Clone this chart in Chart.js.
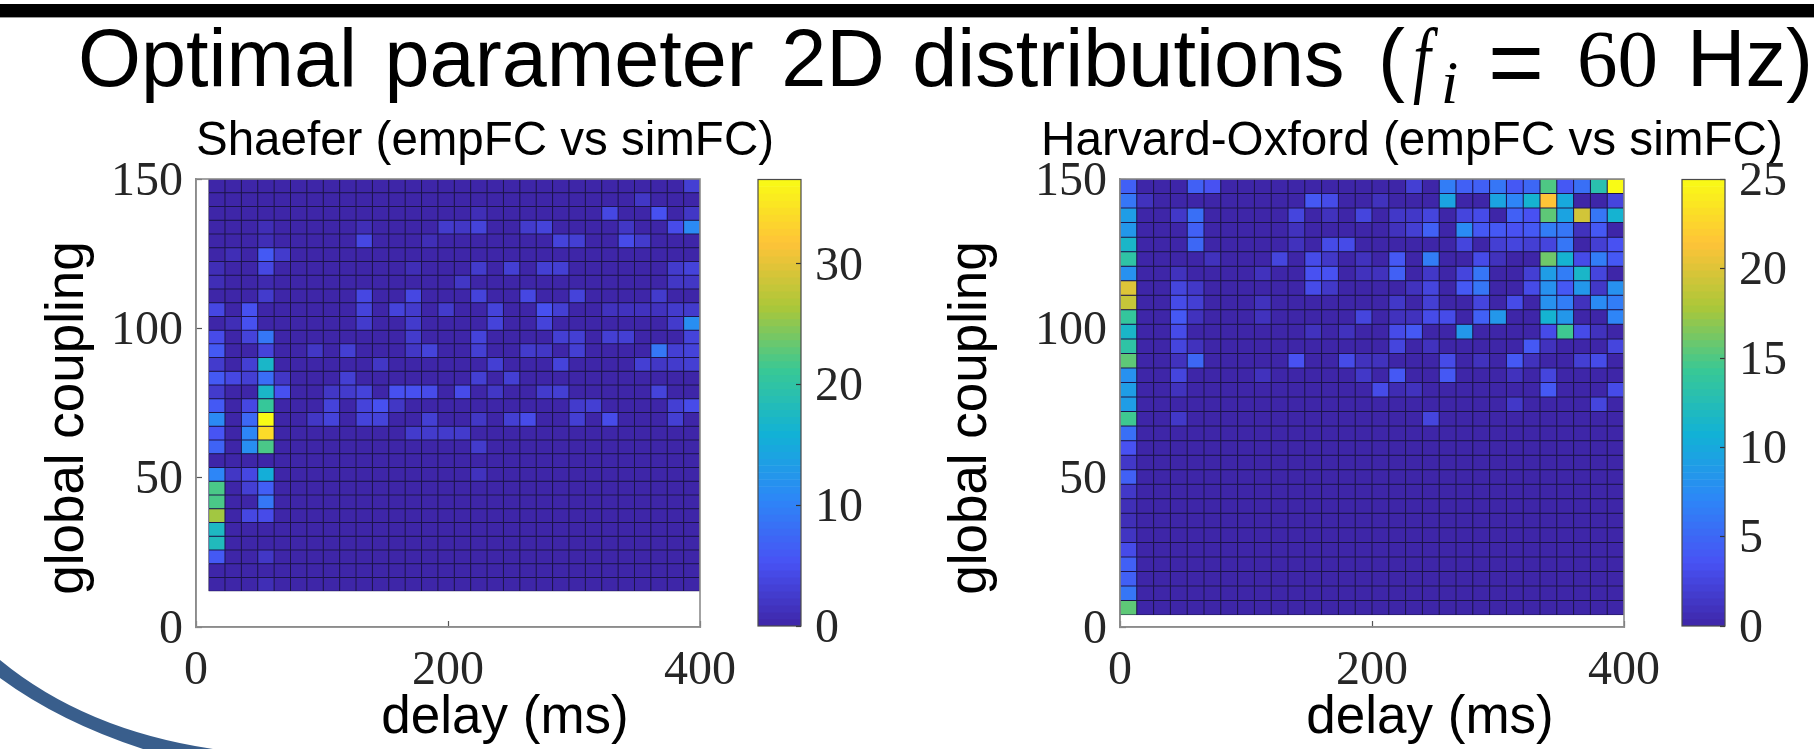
<!DOCTYPE html>
<html>
<head>
<meta charset="utf-8">
<title>Optimal parameter 2D distributions</title>
<script src="https://cdn.jsdelivr.net/npm/chart.js@4/dist/chart.umd.js"></script>
<style>
  html,body{margin:0;padding:0;background:#fff;width:1814px;height:749px;overflow:hidden}
  #stage{position:relative;width:1814px;height:749px;overflow:hidden;background:#fff}
  canvas{position:absolute;top:0}
  #bar{position:absolute;left:0;top:4px;width:1814px;height:13px;background:#000;border-bottom:1px solid #999}
  .t{position:absolute;white-space:pre;color:#000;line-height:1}
  .sans{font-family:"Liberation Sans",Arial,sans-serif}
  .serif{font-family:"Liberation Serif","Times New Roman",serif}
  svg{position:absolute;left:0;top:0}
</style>
</head>
<body>
<div id="stage">
  <div id="bar"></div>
  <svg width="1814" height="749"><path d="M0,660 Q85,730 213,749 L143,749 Q60,722 0,678 Z" fill="#395e8c"/></svg>
  <span class="t sans" style="left:78px;top:18px;font-size:81px;word-spacing:5px">Optimal parameter 2D distributions</span>
  <span class="t sans" style="left:1378px;top:18px;font-size:81px">(</span>
  <span class="t serif" style="left:1413px;top:16px;font-size:85px;font-style:italic;transform:scaleX(.75);transform-origin:left top">f</span>
  <span class="t serif" style="left:1441px;top:51px;font-size:62px;font-style:italic">i</span>
  <span class="t sans" style="left:1488px;top:14px;font-size:96px">=</span>
  <span class="t serif" style="left:1577px;top:19px;font-size:81px">60</span>
  <span class="t sans" style="left:1687px;top:18px;font-size:81px">Hz)</span>
  <canvas id="leftHeat" width="970" height="749" style="left:0"></canvas>
  <canvas id="leftBar" width="160" height="749" style="left:740px"></canvas>
  <canvas id="rightHeat" width="1024" height="749" style="left:900px"></canvas>
  <canvas id="rightBar" width="150" height="749" style="left:1664px"></canvas>
</div>
<script>
const panelTitles = ["Shaefer (empFC vs simFC)", "Harvard-Oxford (empFC vs simFC)"];
const xAxisLabel = "delay (ms)";
const yAxisLabel = "global coupling";
const xTickStep = 200;
const yTickStep = 50;
const shaeferBarTickStep = 10;
const harvardBarTickStep = 5;
const shaeferMax = 37;
const harvardMax = 25;

const shaeferDelayEdges = [10,23,36,49,62,75,88,101,114,127,140,153,166,179,192,205,218,231,244,257,270,283,296,309,322,335,348,361,374,387,400];
const shaeferCouplingEdges = [150,145.4,140.8,136.2,131.6,127,122.4,117.8,113.2,108.6,104,99.4,94.8,90.2,85.6,81,76.4,71.8,67.2,62.6,58,53.4,48.8,44.2,39.6,35,30.4,25.8,21.2,16.6,12];
const harvardDelayEdges = [0,13.33,26.67,40,53.33,66.67,80,93.33,106.67,120,133.33,146.67,160,173.33,186.67,200,213.33,226.67,240,253.33,266.67,280,293.33,306.67,320,333.33,346.67,360,373.33,386.67,400];
const harvardCouplingEdges = [150,145.13,140.27,135.4,130.53,125.67,120.8,115.93,111.07,106.2,101.33,96.47,91.6,86.73,81.87,77,72.13,67.27,62.4,57.53,52.67,47.8,42.93,38.07,33.2,28.33,23.47,18.6,13.73,8.87,4];

// counts, top row first, left column first
const shaeferCounts = [
[0,0,0,0,0, 0,0,0,0,0, 0,0,0,0,0, 0,0,0,0,0, 0,0,0,0,0, 0,0,0,0,3],
[0,0,0,0,0, 0,0,0,0,0, 0,0,0,0,0, 0,0,0,0,0, 0,0,0,0,0, 0,2,0,0,0],
[0,0,0,0,0, 0,0,0,0,0, 0,0,0,0,0, 0,1,0,0,0, 0,0,0,0,4, 0,0,5,0,2],
[0,0,0,1,0, 0,0,0,0,1, 0,0,0,0,2.5, 2,3.5,0,0,2.5, 3.5,0,0,0,0, 2,0,0,4.5,11],
[0,0,0,1,0, 0,0,0,0,4, 0,0,0,1,0, 0,0,0,0,0, 0,3.5,3,0,0, 4.5,2.5,0,0,0],
[0,1,0,6,2.5, 0,0,0,0,0, 0,0,0,0,0, 0,0,0,0,0, 0,0,0,0,0, 0,0,0,0,0],
[1,0,0,4,0, 0,0,0,0,0, 0,0,1,0,0, 0,2.5,0,3,0, 3,3,0,0,0, 0,0,0,2.5,3.5],
[1,0,0,0.5,0, 0,0,0,0,0, 0,0,0,0,0, 2,0,0,0,0, 0,0,0,0,0, 0,0,0,2,2],
[0,0,0,2.5,0, 0,0,0,0,4, 0,0,4,0,0, 0,3.5,0,0,4, 0,0,3.5,0,0, 0,0,2.5,0,0],
[4,0,5,0,0, 0,0,0,0,3.5, 0,3.5,2.5,0,2.5, 0,0,3.5,0,0, 5,3,0,0,1.5, 1.5,1.5,1.5,2.5,2.5],
[0,1,5,0,0, 0,0,0,0,2.5, 0,0,2.5,0,0, 0,0,3.5,0,0, 3.5,0,0,0,0, 0,0,0,2.5,11.5],
[4.5,0,3.5,9,0, 0,0,0,0,0, 0,0,2.5,0,0, 0,3.5,0,0,0, 0,3,3,0,3, 3,0,0,0,3.5],
[6,0,0,3.5,0, 0,2,0,3,0, 0,0,2,3.5,0, 0,3,0,0,2.5, 2,0,3,0,0, 0,0,9,3,3.5],
[2.5,0,3,17,0, 0,0,0,0,0, 2,0,0,0,0, 0,0,3,0,0, 0,3.5,0,0,0, 0,3,2,2.5,3],
[6,4,3,8,2, 0,0,0,3,0, 0,0,0,0,0, 0,3,0,3,0, 0,0,0,0,0, 0,0,0,0,0],
[2.5,0,0,17,5, 0,0,2,2.5,3.5, 0,5,5,4.5,0, 4.5,0,2,0,0, 2.5,3,0,0,0, 0,0,3.5,0,0],
[6,0,4,21,0, 0,0,3.5,0,3.5, 5,2,0,0,0, 0,0,0,0,0, 0,0,2.5,3,0, 0,0,0,3,4.5],
[11,0,7.5,37,0, 0,2,3.5,0,3.5, 3.5,0,0,3,0, 0,2,0,3,4.5, 0,0,3,0,4.5, 0,0,0,3,0],
[5.5,0,10.5,34,0, 0,0,0,0,0, 0,0,2.5,2.5,2.5, 2.5,0,0,0,0, 0,0,0,0,0, 0,0,0,0,0],
[7,0,11.5,22,0, 0,0,0,0,0, 0,0,0,0,0, 0,2.5,0,0,0, 0,0,0,0,0, 0,0,0,0,0],
[0,0,0,0,0, 0,0,0,0,0, 0,0,0,0,0, 0,0,0,0,0, 0,0,0,0,0, 0,0,0,0,0],
[10.5,2,4,15.5,0, 0,0,0,0,0, 0,0,0,0,0, 0,1.5,0,0,0, 0,0,0,0,0, 0,0,0,0,0],
[22,0,3,6.5,0, 0,0,0,0,0, 0,0,0,0,0, 0,0,0,0,0, 0,0,0,0,0, 0,0,0,0,0],
[22,0,0,9,0, 0,0,0,0,0, 0,0,0,0,0, 0,0,0,0,0, 0,0,0,0,0, 0,0,0,0,0],
[26,0,4,4.5,0, 0,0,0,0,0, 0,0,0,0,0, 0,0,0,0,0, 0,0,0,0,0, 0,0,0,0,0],
[17.5,0,0,0,0, 0,0,0,0,0, 0,0,0,0,0, 0,0,0,0,0, 0,0,0,0,0, 0,0,0,0,0],
[18,0,0,0,0, 0,0,0,0,0, 0,0,0,0,0, 0,0,0,0,0, 0,0,0,0,0, 0,0,0,0,0],
[6,0,0,2,0, 0,0,0,0,0, 0,0,0,0,0, 0,0,0,0,0, 0,0,0,0,0, 0,0,0,0,0],
[0,0,0,0,0, 0,0,0,0,0, 0,0,0,0,0, 0,0,0,0,0, 0,0,0,0,0, 0,0,0,0,0],
[0,0,0,1,0, 0,0,0,0,0, 0,0,0,0,0, 0,0,0,0,0, 0,0,0,0,0, 0,0,0,0,0]
];
const harvardCounts = [
[4.5,0,0,0,4.5, 3.5,0,0,0,0, 0,0,0,0,0, 0,0,2,0,6.5, 4.5,4.5,6,4,5, 15,4,5.5,13,25],
[6,1,0,0,0, 0,0,0,0,0, 0,4,3,0,0, 1,0,0,0,9.5, 0,0,9.5,7,11, 21.5,10,0,0,2.5],
[9,0,0,1.5,5.5, 0,0,0,0,0, 2.5,0,1,0,2.5, 0,1.5,1.5,2.5,0, 2.5,3,0,4.5,3.5, 15.5,9.5,19.5,6,11],
[8.5,0,0,0,4.5, 0,0,0,0,0, 1,0,0,0,0, 0,1,2,4.5,0, 7.5,4,4,3.5,4, 6.5,6,1,4,0],
[11.5,0,0,0,5, 0,0,0,0,0, 1,0,3,3,0, 0,0,0,0,0, 2.5,0,2,2.5,2, 2.5,6,0,2,3.5],
[13.5,0,0,0,0, 1,0,0,0,2.5, 0,3,1.5,0,1, 0,4,0,6.5,0, 0,3,1,0,0, 16,11,3,6.5,4],
[8,0,0,1,0, 0,0,0,1,0, 0,3.5,3.5,0,1, 1,4.5,0,1.5,0, 2.5,6,0,0,2, 9,6.5,11.5,2.5,0],
[20,0,0,2.5,1.5, 0,0,0,0,0, 0,3,1.5,0,0, 0,0,1,2.5,0, 4,6,0,0,3, 8,4,8.5,1.5,8],
[19,0,0,3,2, 0,0,0,1,0, 0,0,0,0,0, 0,1.5,0,2,0, 0,2.5,0,3,0, 8,6.5,1,7.5,6.5],
[14,0,0,4,1, 0,0,0,1,0, 0,0,0,0,2.5, 0,1,1,3,3, 0,4.5,8.5,0,0, 11,8.5,0,0,7],
[11.5,0,0,3,0, 0,0,0,0,0, 0,1,0,1,0, 0,3,4,0,0, 8.5,0,0,0,0, 3,14.5,3,1,0],
[13.5,0,0,2.5,1, 0,0,0,0,0, 0,0,0,0,0, 0,2.5,0,1,0, 0,0,0,0,4, 1,0,0,0,2.5],
[15.5,0,0,1,5, 0,0,0,0,0, 3.5,0,0,3,1, 1,0,0,0,3, 0,1,0,4,1, 0,0,2,3,0],
[8,0,0,2.5,0, 0,0,0,1,0, 0,0,0,0,1.5, 0,4,0,0,4, 0,0,0,1,0, 2.5,0,0,0,0],
[9,0,0,1,0, 0,0,0,0,0, 0,0,0,0,0, 3,0.5,1,0,0, 0,0,0,0,0, 4,0,0,0,3],
[9,0,0,0,0, 0,0,0,0,0, 0,0,0,0,0, 0,0,0,0,0, 0,0,0,1.5,0, 0,0,0,2.5,0],
[14.5,0,0,1.5,0, 0,0,0,0,0, 0,0,0,0,0, 0,0,0,2.5,0, 0,0,0,0,0, 0,0,0,0,0],
[5.5,0,0,0,0, 0,0,0,0,0, 0,0,0,0,0, 0,0,0,0,0, 0,0,0,0,0, 0,0,0,0,0],
[3.5,0,0,0,0, 0,0,0,0,0, 0,0,0,0,0, 0,0,0,0,0, 0,0,0,0,0, 0,0,0,0,0],
[1.5,0,0,0,0, 0,0,0,0,0, 0,0,0,0,0, 0,0,0,0,0, 0,0,0,0,0, 0,0,0,0,0],
[4.5,0,0,0,0, 0,0,0,0,0, 0,0,0,0,0, 0,0,0,0,0, 0,0,0,0,0, 0,0,0,0,0],
[1.5,0,0,0,0, 0,0,0,0,0, 0,0,0,0,0, 0,0,0,0,0, 0,0,0,0,0, 0,0,0,0,0],
[0.7,0,0,0,0, 0,0,0,0,0, 0,0,0,0,0, 0,0,0,0,0, 0,0,0,0,0, 0,0,0,0,0],
[0.7,0,0,0,0, 0,0,0,0,0, 0,0,0,0,0, 0,0,0,0,0, 0,0,0,0,0, 0,0,0,0,0],
[1.2,0,0,0,0, 0,0,0,0,0, 0,0,0,0,0, 0,0,0,0,0, 0,0,0,0,0, 0,0,0,0,0],
[3,0,0,0,0, 0,0,0,0,0, 0,0,0,0,0, 0,0,0,0,0, 0,0,0,0,0, 0,0,0,0,0],
[4.5,0,0,0,0, 0,0,0,0,0, 0,0,0,0,0, 0,0,0,0,0, 0,0,0,0,0, 0,0,0,0,0],
[4.5,0,0,0,0, 0,0,0,0,0, 0,0,0,0,0, 0,0,0,0,0, 0,0,0,0,0, 0,0,0,0,0],
[6,0,0,0,0, 0,0,0,0,0, 0,0,0,0,0, 0,0,0,0,0, 0,0,0,0,0, 0,0,0,0,0],
[15.5,0,0,0,0, 0,0,0,0,0, 0,0,0,0,0, 0,0,0,0,0, 0,0,0,0,0, 0,0,0,0,0]
];

const parulaStops = [[62,38,168],[72,82,244],[45,135,247],[18,177,214],[55,200,151],[171,199,57],[254,195,56],[249,251,21]];
function parula(t){
  t = Math.min(1, Math.max(0, t)) * (parulaStops.length - 1);
  const i = Math.min(Math.floor(t), parulaStops.length - 2), f = t - i;
  const c = parulaStops[i].map((a, k) => Math.round(a + (parulaStops[i + 1][k] - a) * f));
  return `rgb(${c[0]},${c[1]},${c[2]})`;
}

const TICK_FONT = {family: '"Liberation Serif","Times New Roman",serif', size: 48, lineHeight: 1};
const TICK_COLOR = '#262626';
const AXIS_GRAY = '#8c8c8c';
const CELL_LINE = 'rgb(30,22,75)';

// dark backing for the cell grid, the plot-box outline and the off-centre captions
const furniture = {
  id: 'furniture',
  beforeDatasetsDraw(chart, _a, o) {
    if (!o.cells) return;
    const {ctx, scales: {x, y}} = chart;
    const px0 = x.getPixelForValue(o.cells.x0), px1 = x.getPixelForValue(o.cells.x1);
    const py0 = y.getPixelForValue(o.cells.y1), py1 = y.getPixelForValue(o.cells.y0);
    ctx.save();
    ctx.fillStyle = CELL_LINE;
    ctx.fillRect(px0, py0, px1 - px0, py1 - py0);
    ctx.restore();
  },
  afterDraw(chart, _a, o) {
    const {ctx, chartArea: a} = chart;
    ctx.save();
    ctx.strokeStyle = o.frame; ctx.lineWidth = o.frameWidth;
    ctx.strokeRect(a.left, a.top, a.right - a.left, a.bottom - a.top);
    ctx.fillStyle = '#000';
    (o.captions || []).forEach(c => {
      ctx.save();
      ctx.translate(c.x, c.y);
      if (c.rotate) ctx.rotate(-Math.PI / 2);
      ctx.font = c.size + 'px "Liberation Sans",Arial,sans-serif';
      ctx.textAlign = 'center';
      ctx.textBaseline = 'alphabetic';
      ctx.fillText(c.text, 0, 0);
      ctx.restore();
    });
    ctx.restore();
  }
};

function heatDatasets(counts, xEdges, yEdges, maxV) {
  return counts.map((row, r) => ({
    data: row.map((v, c) => ({x: (xEdges[c] + xEdges[c + 1]) / 2, y: [yEdges[r + 1], yEdges[r]], v})),
    backgroundColor: row.map(v => parula(v / maxV)),
    borderColor: CELL_LINE,
    borderWidth: 0.55,
    borderSkipped: false,
    inflateAmount: 0.05,
    grouped: false,
    barPercentage: 1,
    categoryPercentage: 1
  }));
}

function heatChart(id, title, counts, xEdges, yEdges, maxV, g) {
  return new Chart(document.getElementById(id), {
    type: 'bar',
    data: {datasets: heatDatasets(counts, xEdges, yEdges, maxV)},
    plugins: [furniture],
    options: {
      responsive: false, animation: false, events: [],
      layout: {padding: {left: g.padLeft, right: g.padRight, top: 179, bottom: 62}},
      plugins: {
        legend: {display: false}, tooltip: {enabled: false}, title: {display: false},
        furniture: {frame: AXIS_GRAY, frameWidth: 1.6,
          cells: {x0: xEdges[0], x1: xEdges[xEdges.length - 1], y0: yEdges[yEdges.length - 1], y1: yEdges[0]},
          captions: [
            {text: title, x: g.titleX, y: 155, size: g.titleSize},
            {text: yAxisLabel, x: g.yCapX, y: 418, size: 53, rotate: true},
            {text: xAxisLabel, x: g.xCapX, y: 733, size: 53}
          ]}
      },
      scales: {
        x: {type: 'linear', min: 0, max: 400, offset: false,
          afterFit: s => { s.height = 60; },
          border: {color: AXIS_GRAY, width: 1.6},
          grid: {offset: false, drawOnChartArea: false, tickLength: -6, tickColor: '#555', tickWidth: 1.2},
          ticks: {stepSize: xTickStep, autoSkip: false, maxRotation: 0, padding: 26, color: TICK_COLOR, font: TICK_FONT}},
        y: {type: 'linear', min: 0, max: 150,
          afterFit: s => { s.width = g.yWidth; },
          border: {color: AXIS_GRAY, width: 1.6},
          grid: {drawOnChartArea: false, tickLength: -6, tickColor: '#555', tickWidth: 1.2},
          ticks: {stepSize: yTickStep, autoSkip: false, padding: 19, labelOffset: 3, color: TICK_COLOR, font: TICK_FONT}}
      }
    }
  });
}

function colorbarChart(id, maxV, step, g) {
  const levels = Array.from({length: 64}, (_, i) => i);
  return new Chart(document.getElementById(id), {
    type: 'bar',
    data: {datasets: [{
      data: levels.map(i => ({y: (i + 0.5) * maxV / 64, x: [0, 1]})),
      backgroundColor: levels.map(i => parula((i + 0.5) / 64)),
      borderWidth: 0, grouped: false, barPercentage: 1, categoryPercentage: 1
    }]},
    plugins: [furniture],
    options: {
      indexAxis: 'y',
      responsive: false, animation: false, events: [],
      layout: {padding: {left: 18, right: 0, top: 179.5, bottom: 123}},
      plugins: {legend: {display: false}, tooltip: {enabled: false}, title: {display: false},
        furniture: {frame: '#4a4a4a', frameWidth: 1.2, captions: []}},
      scales: {
        x: {type: 'linear', min: 0, max: 1, display: false},
        y: {type: 'linear', position: 'right', min: 0, max: maxV, offset: false,
          afterFit: s => { s.width = g.yWidth; },
          border: {display: false},
          grid: {offset: false, drawOnChartArea: false, z: 1, tickLength: -5, tickColor: '#333', tickWidth: 1.2},
          ticks: {stepSize: step, includeBounds: false, autoSkip: false, padding: 19, labelOffset: 3, color: TICK_COLOR, font: TICK_FONT}}
      }
    }
  });
}

heatChart('leftHeat', panelTitles[0], shaeferCounts, shaeferDelayEdges, shaeferCouplingEdges, shaeferMax,
  {padLeft: 41, padRight: 270, yWidth: 155, yCapX: 83, xCapX: 505, titleX: 485, titleSize: 47.5});
heatChart('rightHeat', panelTitles[1], harvardCounts, harvardDelayEdges, harvardCouplingEdges, harvardMax,
  {padLeft: 5, padRight: 300, yWidth: 215, yCapX: 86, xCapX: 530, titleX: 512, titleSize: 47.7});
colorbarChart('leftBar', shaeferMax, shaeferBarTickStep, {yWidth: 99});
colorbarChart('rightBar', harvardMax, harvardBarTickStep, {yWidth: 89});
</script>
</body>
</html>
